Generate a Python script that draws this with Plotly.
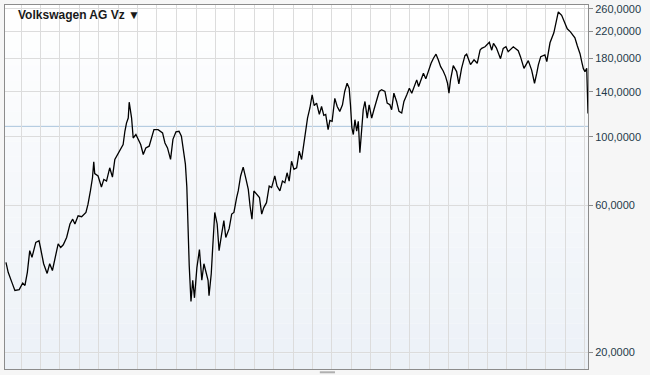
import plotly.graph_objects as go
import math

title_text = "Volkswagen AG Vz \u25BC"

dates = [
    "2005-09-28", "2005-10-12", "2005-11-03", "2005-11-23", "2005-12-20",
    "2006-01-11", "2006-01-25", "2006-02-09", "2006-02-24", "2006-03-10",
    "2006-04-03", "2006-04-23", "2006-05-02", "2006-05-22", "2006-06-13",
    "2006-06-29", "2006-07-16", "2006-08-07", "2006-08-21", "2006-09-06",
    "2006-09-22", "2006-10-13", "2006-11-03", "2006-11-20", "2006-12-04",
    "2006-12-24", "2007-01-15", "2007-02-11", "2007-02-24", "2007-03-11",
    "2007-03-24", "2007-04-01", "2007-04-07", "2007-04-28", "2007-05-19",
    "2007-06-03", "2007-06-20", "2007-07-10", "2007-07-27", "2007-08-11",
    "2007-09-01", "2007-09-16", "2007-10-02", "2007-10-13", "2007-10-23",
    "2007-11-03", "2007-11-09", "2007-11-24", "2007-12-04", "2007-12-21",
    "2008-01-05", "2008-01-20", "2008-02-05", "2008-02-21", "2008-03-13",
    "2008-03-28", "2008-04-12", "2008-05-08", "2008-06-05", "2008-06-20",
    "2008-07-06", "2008-07-25", "2008-08-09", "2008-08-28", "2008-09-16",
    "2008-10-01", "2008-10-14", "2008-10-26", "2008-11-04", "2008-11-12",
    "2008-11-19", "2008-11-30", "2008-12-11", "2008-12-22", "2009-01-06",
    "2009-01-22", "2009-02-06", "2009-02-19", "2009-03-07", "2009-03-17",
    "2009-03-23", "2009-04-06", "2009-04-14", "2009-04-28", "2009-05-13",
    "2009-05-25", "2009-06-10", "2009-06-24", "2009-07-06", "2009-07-27",
    "2009-08-12", "2009-08-26", "2009-09-12", "2009-09-22", "2009-10-07",
    "2009-10-23", "2009-11-10", "2009-11-24", "2009-12-05", "2009-12-17",
    "2009-12-29", "2010-01-16", "2010-02-02", "2010-02-16", "2010-03-01",
    "2010-03-18", "2010-04-04", "2010-04-19", "2010-05-09", "2010-05-23",
    "2010-06-10", "2010-06-26", "2010-07-11", "2010-07-25", "2010-08-07",
    "2010-08-22", "2010-09-06", "2010-09-23", "2010-10-09", "2010-10-24",
    "2010-11-05", "2010-11-17", "2010-11-30", "2010-12-15", "2010-12-29",
    "2011-01-11", "2011-01-26", "2011-02-12", "2011-02-26", "2011-03-12",
    "2011-03-24", "2011-04-08", "2011-04-19", "2011-05-03", "2011-05-20",
    "2011-06-04", "2011-06-20", "2011-07-07", "2011-07-21", "2011-08-05",
    "2011-08-18", "2011-08-26", "2011-09-04", "2011-09-13", "2011-09-23",
    "2011-10-04", "2011-10-14", "2011-10-24", "2011-11-04", "2011-11-14",
    "2011-11-25", "2011-12-09", "2011-12-21", "2012-01-06", "2012-01-20",
    "2012-02-07", "2012-02-22", "2012-03-08", "2012-03-29", "2012-04-12",
    "2012-04-29", "2012-05-10", "2012-05-24", "2012-06-10", "2012-06-25",
    "2012-07-12", "2012-07-26", "2012-08-13", "2012-08-29", "2012-09-13",
    "2012-09-27", "2012-10-14", "2012-10-26", "2012-11-09", "2012-11-25",
    "2012-12-10", "2012-12-26", "2013-01-12", "2013-01-27", "2013-02-12",
    "2013-02-26", "2013-03-13", "2013-03-29", "2013-04-13", "2013-04-25",
    "2013-05-04", "2013-05-14", "2013-05-31", "2013-06-21", "2013-07-05",
    "2013-07-22", "2013-08-12", "2013-08-23", "2013-09-16", "2013-10-08",
    "2013-10-28", "2013-11-15", "2013-11-25", "2013-12-16", "2014-01-12",
    "2014-01-27", "2014-02-07", "2014-02-25", "2014-03-23", "2014-04-09",
    "2014-04-26", "2014-05-10", "2014-06-11", "2014-07-12", "2014-07-26",
    "2014-08-17", "2014-09-13", "2014-10-04", "2014-10-22", "2014-11-05",
    "2014-11-15", "2014-11-30", "2014-12-26", "2015-01-07", "2015-01-27",
    "2015-02-20", "2015-03-12", "2015-03-20", "2015-04-10", "2015-04-27",
    "2015-05-15", "2015-06-04", "2015-06-21", "2015-07-02", "2015-07-17",
    "2015-08-03", "2015-08-15", "2015-08-24", "2015-09-03", "2015-09-14",
    "2015-09-22",
]

prices = [
    39.1, 36.3, 33.8, 31.7, 31.9,
    33.5, 32.9, 36.3, 42.7, 40.6,
    45.4, 46.0, 43.7, 38.7, 36.0,
    38.7, 36.8, 41.6, 44.9, 43.7,
    44.6, 47.1, 52.1, 54.0, 52.1,
    55.4, 55.0, 56.8, 60.4, 66.7,
    73.6, 82.9, 75.9, 74.6, 68.7,
    72.7, 71.8, 79.3, 74.0, 84.4,
    88.7, 92.0, 94.4, 104.2, 110.8,
    115.0, 129.5, 115.0, 99.1, 101.7,
    97.9, 94.4, 87.6, 92.0, 93.2,
    99.1, 105.5, 105.5, 102.9, 95.5,
    92.0, 84.4, 98.1, 103.8, 104.2,
    100.4, 91.2, 81.5, 68.7, 49.5,
    38.2, 29.2, 34.2, 30.0, 37.6,
    43.0, 34.2, 38.7, 35.9, 34.2,
    30.5, 35.9, 42.7, 56.8, 52.1,
    42.7, 48.3, 53.4, 47.1, 50.3,
    56.1, 56.8, 63.5, 66.7, 74.6,
    79.7, 72.7, 67.5, 59.6, 54.0,
    66.7, 65.1, 63.5, 56.1, 58.9,
    61.1, 69.2, 68.4, 74.6, 69.2,
    66.7, 71.8, 70.9, 76.4, 71.8,
    83.3, 78.4, 79.3, 89.8, 84.4,
    92.5, 104.2, 115.0, 124.0, 136.9,
    126.3, 128.6, 118.2, 125.4, 117.4,
    118.2, 105.5, 113.0, 112.2, 133.2,
    125.4, 120.9, 127.0, 140.3, 149.2,
    143.8, 127.0, 106.8, 101.7, 113.6,
    104.2, 112.2, 88.7, 106.8, 122.4,
    130.2, 115.0, 127.0, 115.0, 122.4,
    133.4, 140.3, 142.1, 140.3, 128.6,
    127.0, 122.4, 138.5, 130.2, 120.9,
    119.4, 130.2, 136.8, 143.8, 138.5,
    145.6, 153.0, 145.6, 151.9, 160.8,
    154.2, 164.6, 173.2, 179.9, 185.4,
    177.8, 168.9, 163.6, 156.8, 149.2,
    138.5, 153.0, 170.2, 162.8, 148.4,
    166.7, 183.4, 185.4, 171.5, 177.8,
    173.2, 191.3, 193.7, 196.0, 202.6,
    191.0, 201.0, 194.5, 179.3, 193.7,
    196.0, 188.9, 196.0, 190.3, 182.0,
    166.8, 176.7, 164.6, 149.2, 160.8,
    171.1, 182.0, 184.3, 175.4, 201.9,
    217.5, 248.0, 254.2, 248.0, 234.2,
    224.1, 219.1, 213.8, 209.5, 197.4,
    186.1, 174.1, 166.4, 162.8, 166.8,
    119.1,
]

tick_values = [20, 60, 100, 140, 180, 220, 260]
tick_labels = ["20,0000", "60,0000", "100,0000", "140,0000", "180,0000", "220,0000", "260,0000"]
reference_level = 108.1
x_range = ["2005-09-22", "2015-09-22"]
y_range_values = [17.62, 267.8]

fig = go.Figure()
fig.add_trace(go.Scatter(
    x=dates, y=prices, mode="lines",
    line=dict(color="#000000", width=1.3),
    hoverinfo="skip", showlegend=False,
))

# background gradient bands (white at top -> pale blue at bottom)
shapes = []
n = 24
top = (255, 255, 255)
bot = (236, 241, 247)
for i in range(n):
    f = (i + 0.5) / n
    c = tuple(round(top[k] + (bot[k] - top[k]) * f) for k in range(3))
    shapes.append(dict(
        type="rect", xref="paper", yref="paper",
        x0=0, x1=1, y0=1 - (i + 1) / n, y1=1 - i / n,
        fillcolor="rgb(%d,%d,%d)" % c, line=dict(width=0), layer="below",
    ))
# reference level line
shapes.append(dict(
    type="line", xref="paper", yref="y", x0=0, x1=1,
    y0=reference_level, y1=reference_level,
    line=dict(color="#a9c4dc", width=1), layer="below",
))
# little handle below the plot
shapes.append(dict(
    type="line", xref="paper", yref="paper", x0=0.54, x1=0.566,
    y0=-0.009, y1=-0.009, line=dict(color="#b0b0b0", width=2),
    layer="above",
))

fig.update_layout(
    width=650, height=375,
    margin=dict(l=5, r=62, t=3, b=6),
    paper_bgcolor="#f6f6f6",
    plot_bgcolor="#ffffff",
    font=dict(family="Liberation Sans, Arial, sans-serif", size=11, color="#1f3a4a"),
    shapes=shapes,
    showlegend=False,
    annotations=[dict(
        text="<b>" + title_text + "</b>", xref="paper", yref="paper",
        x=0.019, y=0.972, xanchor="left", yanchor="middle", showarrow=False,
        font=dict(size=12, color="#1a1a1a", family="Liberation Sans, Arial, sans-serif"),
    )],
)
fig.update_xaxes(
    type="date", range=x_range, showticklabels=False, ticks="",
    showgrid=True, gridcolor="#dcdcdc", gridwidth=1,
    dtick="M4", tick0="2006-01-01",
    showline=True, mirror=True, linecolor="#8c8c8c", linewidth=1,
    zeroline=False,
)
fig.update_yaxes(
    type="log", side="right",
    range=[math.log10(y_range_values[0]), math.log10(y_range_values[1])],
    tickvals=tick_values, ticktext=tick_labels,
    ticks="outside", ticklen=4, tickcolor="#8c8c8c",
    showgrid=True, gridcolor="#dcdcdc", gridwidth=1,
    showline=True, mirror=True, linecolor="#8c8c8c", linewidth=1,
    tickfont=dict(size=11, color="#1f3a4a"),
    zeroline=False,
)

fig.write_html("out.html")
